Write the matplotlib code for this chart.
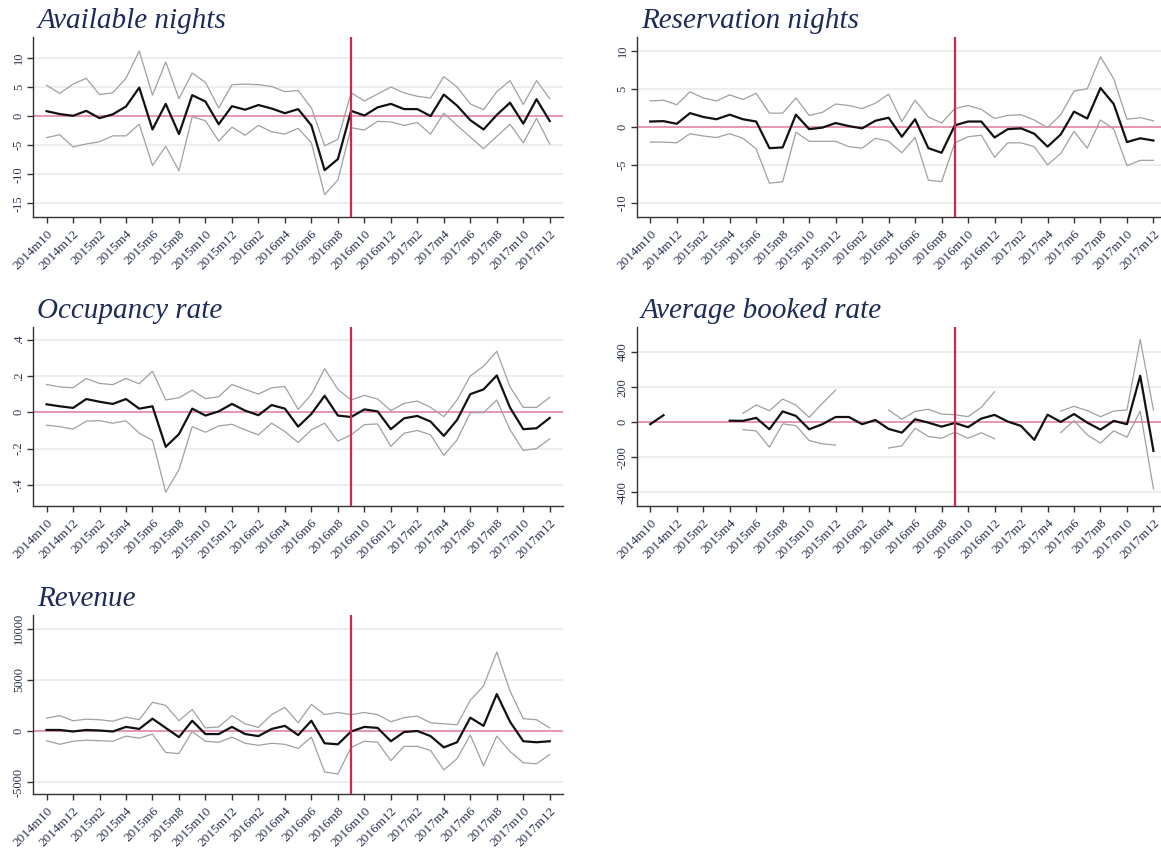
import numpy as np
import matplotlib
matplotlib.use("Agg")
import matplotlib.pyplot as plt

nan = np.nan

# ---- months ----
months = ["2014m10", "2014m11", "2014m12",
          "2015m1", "2015m2", "2015m3", "2015m4", "2015m5", "2015m6", "2015m7", "2015m8",
          "2015m9", "2015m10", "2015m11", "2015m12",
          "2016m1", "2016m2", "2016m3", "2016m4", "2016m5", "2016m6", "2016m7", "2016m8",
          "2016m9", "2016m10", "2016m11", "2016m12",
          "2017m1", "2017m2", "2017m3", "2017m4", "2017m5", "2017m6", "2017m7", "2017m8",
          "2017m9", "2017m10", "2017m11", "2017m12"]
event_month = "2016m9"

# ---- Available nights ----
avail_est = [0.85, 0.35, 0.05, 0.9, -0.35, 0.3, 1.65, 4.9, -2.3, 2.1, -3.1, 3.6, 2.5, -1.4,
             1.7, 1.1, 1.9, 1.3, 0.5, 1.2, -1.6, -9.3, -7.4, 0.9, 0.1, 1.5, 2.1, 1.2, 1.2,
             0.0, 3.7, 1.8, -0.7, -2.3, 0.2, 2.3, -1.3, 2.9, -0.85]
avail_hi = [5.3, 3.9, 5.5, 6.5, 3.7, 4.0, 6.5, 11.2, 3.6, 9.3, 3.0, 7.4, 5.8, 1.4,
            5.4, 5.5, 5.4, 5.1, 4.2, 4.4, 1.4, -5.1, -4.0, 4.0, 2.6, 3.8, 5.0, 4.0, 3.4,
            3.1, 6.8, 5.0, 2.1, 1.1, 4.2, 6.1, 2.0, 6.1, 3.0]
avail_lo = [-3.7, -3.2, -5.3, -4.8, -4.4, -3.4, -3.4, -1.4, -8.5, -5.2, -9.4, -0.1, -0.8, -4.3,
            -1.9, -3.3, -1.6, -2.7, -3.1, -2.1, -4.6, -13.5, -11.0, -2.0, -2.4, -0.9, -1.0, -1.6, -1.1,
            -3.1, 0.5, -1.6, -3.6, -5.6, -3.5, -1.4, -4.6, -0.4, -4.8]

# ---- Reservation nights ----
resv_est = [0.7, 0.75, 0.4, 1.8, 1.3, 1.0, 1.6, 1.0, 0.7, -2.8, -2.7, 1.6, -0.3, -0.1,
            0.5, 0.1, -0.2, 0.8, 1.2, -1.3, 1.0, -2.8, -3.4, 0.2, 0.7, 0.7, -1.4, -0.3, -0.2,
            -0.9, -2.6, -1.0, 2.0, 1.1, 5.1, 3.0, -2.0, -1.5, -1.8]
resv_hi = [3.4, 3.5, 2.9, 4.6, 3.8, 3.4, 4.2, 3.6, 4.4, 1.8, 1.8, 3.8, 1.5, 1.9,
           3.0, 2.8, 2.4, 3.1, 4.3, 0.7, 3.5, 1.3, 0.5, 2.4, 2.8, 2.3, 1.1, 1.5, 1.6,
           0.9, -0.1, 1.6, 4.7, 5.0, 9.2, 6.3, 1.0, 1.2, 0.8]
resv_lo = [-2.0, -2.0, -2.1, -0.9, -1.2, -1.4, -0.9, -1.5, -2.9, -7.4, -7.2, -0.7, -1.9, -1.9,
           -1.9, -2.6, -2.8, -1.5, -1.9, -3.4, -1.4, -7.0, -7.2, -2.1, -1.3, -1.1, -4.0, -2.1, -2.1,
           -2.6, -5.0, -3.5, -0.6, -2.8, 0.9, -0.3, -5.1, -4.4, -4.4]

# ---- Occupancy rate ----
occ_est = [0.044, 0.033, 0.024, 0.073, 0.058, 0.046, 0.073, 0.02, 0.033, -0.19, -0.12, 0.02,
           -0.018, 0.005, 0.046, 0.009, -0.016, 0.04, 0.02, -0.079, -0.009, 0.091, -0.018,
           -0.026, 0.016, 0.005, -0.093, -0.033, -0.02, -0.051, -0.13, -0.042, 0.10, 0.126,
           0.203, 0.026, -0.093, -0.088, -0.031]
occ_hi = [0.153, 0.14, 0.135, 0.186, 0.159, 0.152, 0.186, 0.157, 0.226, 0.068, 0.08, 0.122,
          0.075, 0.086, 0.153, 0.126, 0.10, 0.135, 0.142, 0.016, 0.099, 0.24, 0.126,
          0.068, 0.093, 0.073, 0.009, 0.049, 0.062, 0.027, -0.024, 0.068, 0.20, 0.254,
          0.336, 0.14, 0.027, 0.027, 0.082]
occ_lo = [-0.071, -0.079, -0.093, -0.049, -0.046, -0.06, -0.047, -0.115, -0.155, -0.44, -0.316,
          -0.079, -0.11, -0.075, -0.066, -0.097, -0.124, -0.06, -0.106, -0.166, -0.097, -0.06,
          -0.159, -0.124, -0.068, -0.064, -0.188, -0.115, -0.1, -0.124, -0.237, -0.152,
          -0.002, -0.002, 0.068, -0.097, -0.21, -0.2, -0.146]

# ---- Average booked rate (gaps are missing months) ----
abr_est = [-11, 40, nan, nan, nan, nan, 9, 8, 25, -40, 62, 36, -40, -11, 30, 30, -11, 13,
           -38, -59, 17, -2, -25, -4, -28, 21, 42, 4, -21, -100, 43, 2, 47, -2, -42, 8,
           -11, 265, -163]
abr_hi = [nan, nan, nan, nan, nan, nan, nan, 51, 98, 66, 132, 98, 28, 108, 183, nan, nan, nan,
          70, 17, 62, 74, 47, 43, 32, 85, 174, nan, nan, nan, nan, 64, 91, 66, 32, 64,
          70, 471, 70]
abr_lo = [nan, nan, nan, nan, nan, nan, nan, -42, -49, -142, -9, -19, -104, -123, -130, nan, nan,
          nan, -147, -134, -34, -81, -91, -57, -91, -60, -93, nan, nan, nan, nan, -59, 9, -72,
          -119, -49, -85, 64, -380]

# ---- Revenue ----
rev_est = [100, 100, -50, 100, 50, -50, 400, 200, 1200, 300, -600, 1000, -300, -300, 400,
           -300, -500, 200, 500, -400, 1000, -1200, -1300, -50, 400, 300, -1000, -100, 0,
           -500, -1600, -1100, 1300, 500, 3600, 900, -1000, -1100, -1000]
rev_hi = [1250, 1500, 1000, 1150, 1100, 950, 1350, 1100, 2800, 2500, 1000, 2100, 300, 400,
          1500, 700, 350, 1600, 2300, 800, 2600, 1600, 1800, 1600, 1800, 1600, 900, 1300,
          1450, 800, 700, 600, 3000, 4400, 7700, 3900, 1200, 1100, 300]
rev_lo = [-950, -1300, -1000, -900, -950, -1000, -500, -700, -300, -2100, -2200, -50, -1000,
          -1100, -600, -1200, -1400, -1200, -1300, -1700, -600, -4000, -4200, -1600, -1000,
          -1100, -2900, -1500, -1500, -1900, -3800, -2700, -400, -3400, -500, -2000, -3100,
          -3200, -2300]

titles = ["Available nights", "Reservation nights", "Occupancy rate",
          "Average booked rate", "Revenue"]
yticks_list = [[-15, -10, -5, 0, 5, 10], [-10, -5, 0, 5, 10], [-0.4, -0.2, 0, 0.2, 0.4],
               [-400, -200, 0, 200, 400], [-5000, 0, 5000, 10000]]
ytick_labels = [["-15", "-10", "-5", "0", "5", "10"], ["-10", "-5", "0", "5", "10"],
                ["-.4", "-.2", "0", ".2", ".4"], ["-400", "-200", "0", "200", "400"],
                ["-5000", "0", "5000", "10000"]]
ylims = [(-17.3, 13.6), (-11.8, 11.8), (-0.516, 0.468), (-477, 541), (-6150, 11320)]
series = [(avail_est, avail_lo, avail_hi), (resv_est, resv_lo, resv_hi),
          (occ_est, occ_lo, occ_hi), (abr_est, abr_lo, abr_hi), (rev_est, rev_lo, rev_hi)]

W, H = 1161, 848
fig = plt.figure(figsize=(W / 100, H / 100), dpi=100)
fig.patch.set_facecolor("white")

# axes rectangles in pixels: (left, top, right, bottom)
rects = [(33.3, 37, 563, 216.7), (637, 37, 1166.7, 216.7),
         (33.3, 327.3, 563, 506), (637, 327.3, 1166.7, 506),
         (33.3, 615, 563, 794)]

navy = "#1d2b57"
txtcol = "#2a3350"
x = np.arange(len(months))
ev = months.index(event_month)

for k, (l, t, r, b) in enumerate(rects):
    ax = fig.add_axes([l / W, 1 - b / H, (r - l) / W, (b - t) / H])
    est, lo, hi = series[k]
    ax.set_xlim(-1, len(months))
    ax.set_ylim(*ylims[k])
    ax.set_yticks(yticks_list[k])
    ax.set_yticklabels(ytick_labels[k], rotation=90, va="center",
                       fontfamily="Liberation Serif", fontsize=9, color=txtcol)
    ax.grid(axis="y", color="#eeeeee", linewidth=1.5)
    ax.set_axisbelow(True)
    ax.axhline(0, color="#e58aa0", linewidth=1.2, zorder=1)
    ax.plot(x, np.array(hi, float), color="#a0a0a0", linewidth=0.9, zorder=2)
    ax.plot(x, np.array(lo, float), color="#a0a0a0", linewidth=0.9, zorder=2)
    ax.plot(x, np.array(est, float), color="#111111", linewidth=1.6, zorder=3)
    ax.axvline(ev, color="#cc2a55", linewidth=1.6, zorder=4)
    ax.set_xticks(x[::2])
    ax.set_xticklabels(months[::2], rotation=45, ha="right", va="top",
                       rotation_mode="anchor", fontfamily="Liberation Serif",
                       fontsize=9.5, color=txtcol)
    for s in ["top", "right"]:
        ax.spines[s].set_visible(False)
    for s in ["left", "bottom"]:
        ax.spines[s].set_color("#333333")
        ax.spines[s].set_linewidth(1.0)
    ax.tick_params(axis="both", direction="out", length=4, width=1.0, color="#333333", pad=2)
    ax.tick_params(axis="x", pad=4)
    fig.text((l + 4) / W, 1 - (t - 9) / H, titles[k], fontfamily="Liberation Serif",
             fontstyle="italic", fontsize=21, color=navy, ha="left", va="baseline")

fig.savefig("out.png", dpi=100, facecolor="white")
